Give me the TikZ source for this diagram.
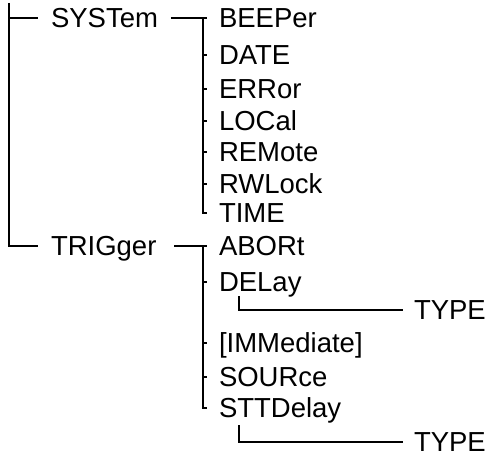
\documentclass[tikz,border=0pt]{standalone}
\usepackage{fontspec}
\setmainfont{Liberation Sans}
\begin{document}
\begin{tikzpicture}[x=1pt,y=-1pt,line width=2pt,
  lbl/.style={anchor=west,inner sep=0pt,text height=19.7pt,text depth=0pt,font=\fontsize{27.5}{30}\selectfont}]
\useasboundingbox (0,0) rectangle (495,457);
% level 1
\node[lbl] (sys) at (50,18) {SYSTem};
\node[lbl] (trg) at (50,246) {TRIGger};
% SYSTem children
\node[lbl] (beep) at (218,18) {BEEPer};
\node[lbl] (date) at (218,55) {DATE};
\node[lbl] (err) at (218,89) {ERRor};
\node[lbl] (loc) at (218,121) {LOCal};
\node[lbl] (rem) at (218,152) {REMote};
\node[lbl] (rwl) at (218,184) {RWLock};
\node[lbl] (time) at (218,213) {TIME};
% TRIGger children
\node[lbl] (abort) at (218,246) {ABORt};
\node[lbl] (del) at (218,282) {DELay};
\node[lbl] (type1) at (413,310) {TYPE};
\node[lbl] (imm) at (218,343) {[IMMediate]};
\node[lbl] (src) at (218,377) {SOURce};
\node[lbl] (stt) at (218,408) {STTDelay};
\node[lbl] (type2) at (413,442) {TYPE};
% root
\coordinate (root) at (9,3);
\draw (root) -- (root |- trg.west) -- ([xshift=-12pt]trg.west);
\draw (root |- sys.west) -- ([xshift=-12pt]sys.west);
% SYSTem bus
\coordinate (sb) at (202.5,18);
\coordinate (sbe) at (202.5,213);
\draw ([xshift=12pt]sys.east) -- ([xshift=-11pt]beep.west);
\foreach \n in {date,err,loc,rem,rwl}
  \draw (sb |- \n.west) -- ([xshift=-11pt]\n.west);
\draw (sb) -- (sbe) -- ([xshift=-11pt]time.west);
% TRIGger bus
\coordinate (tb) at (202.5,246);
\coordinate (tbe) at (202.5,408);
\draw ([xshift=17pt]trg.east) -- ([xshift=-11pt]abort.west);
\foreach \n in {del,imm,src}
  \draw (tb |- \n.west) -- ([xshift=-11pt]\n.west);
\draw (tb) -- (tbe) -- ([xshift=-11pt]stt.west);
% TYPE branches
\coordinate (d1) at (239,296);
\coordinate (d2) at (239,425);
\draw (d1) -- (d1 |- type1.west) -- ([xshift=-10pt]type1.west);
\draw (d2) -- (d2 |- type2.west) -- ([xshift=-10pt]type2.west);
\end{tikzpicture}
\end{document}
